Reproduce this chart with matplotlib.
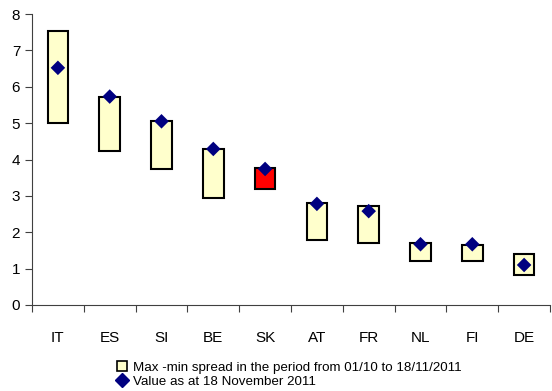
import numpy as np
import matplotlib.pyplot as plt
from matplotlib.patches import Patch
from matplotlib.lines import Line2D

plt.rcParams['font.family'] = ['Liberation Sans', 'DejaVu Sans']

# Spread ranges and current values per country
countries = ['IT', 'ES', 'SI', 'BE', 'SK', 'AT', 'FR', 'NL', 'FI', 'DE']
spread_max = [7.54, 5.71, 5.05, 4.29, 3.78, 2.81, 2.73, 1.71, 1.66, 1.41]
spread_min = [4.99, 4.24, 3.73, 2.93, 3.18, 1.80, 1.70, 1.22, 1.22, 0.83]
value_now = [6.52, 5.73, 5.05, 4.29, 3.74, 2.78, 2.58, 1.67, 1.67, 1.10]
highlight = 'SK'

fig = plt.figure(figsize=(5.52, 3.91), dpi=100)
ax = fig.add_axes([32 / 552, 86 / 391, 518 / 552, 291 / 391])

x = np.arange(len(countries))
lo = np.array(spread_min)
hi = np.array(spread_max)
colors = ['#FF0000' if c == highlight else '#FFFFCC' for c in countries]
ax.bar(x, hi - lo, bottom=lo, width=0.4, color=colors, edgecolor='black',
       linewidth=1.5, zorder=2)
ax.scatter(x, value_now, marker='D', s=55, color='#000080', zorder=3,
           edgecolors='none')

ax.set_xlim(-0.5, len(countries) - 0.5)
ax.set_ylim(0, 8)
ax.set_yticks(range(0, 9))
ax.set_xticks(np.arange(-0.5, len(countries), 1.0))
ax.set_xticklabels([])
ax.set_xticks(x, minor=True)
ax.set_xticklabels(countries, minor=True)
ax.tick_params(axis='x', which='minor', length=0, pad=19, labelsize=11)
ax.tick_params(axis='x', which='major', length=5, direction='out', color='#404040')
ax.tick_params(axis='y', length=5, direction='out', labelsize=11, color='#404040')
for s in ['top', 'right']:
    ax.spines[s].set_visible(False)
for s in ['left', 'bottom']:
    ax.spines[s].set_color('#404040')

handles = [
    Patch(facecolor='#FFFFCC', edgecolor='black', linewidth=1.2,
          label='Max -min spread in the period from 01/10 to 18/11/2011'),
    Line2D([], [], marker='D', linestyle='none', color='#000080',
           markersize=7, label='Value as at 18 November 2011'),
]
fig.legend(handles=handles, loc='lower left', bbox_to_anchor=(109 / 552, -0.012),
           frameon=False, fontsize=9.6, handlelength=0.75, handleheight=0.75,
           handletextpad=0.45, labelspacing=0.12, borderaxespad=0.2)

fig.savefig('out.png', dpi=100)
